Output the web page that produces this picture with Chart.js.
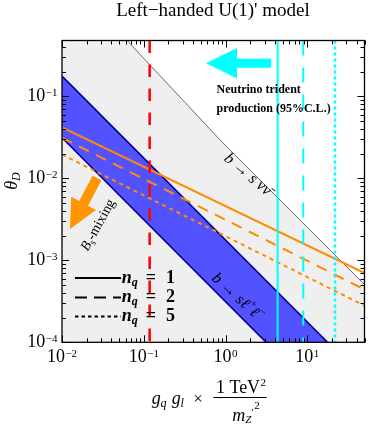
<!DOCTYPE html>
<html><head><meta charset="utf-8">
<script src="https://cdn.jsdelivr.net/npm/chart.js@4/dist/chart.umd.min.js"></script>
<style>html,body{margin:0;padding:0;background:#fff;}#wrap{width:374px;height:427px;position:relative}</style>
</head><body><div id="wrap"><canvas id="c" width="374" height="427"></canvas></div>
<script>
// ---- data ----
const xRange = [0.01, 50];
const yRange = [1e-4, 0.48];
const xTickExps = [-2, -1, 0, 1];
const yTickExps = [-4, -3, -2, -1];
// b -> s nu nubar bound (gray line)
const nuX = [0.0637, 0.851, 50];
const nuY = [0.47, 0.0296, 5.06e-4];
// b -> s l+ l- band
const llX = [0.01, 50];
const llUpperY = [0.177, 3.53e-5];
const llLowerY = [0.0313, 6.26e-6];
// Bs-mixing lines
const bsX = [0.01, 50];
const bsN1Y = [0.0417, 7.0e-4];
const bsN2Y = [0.0312, 4.41e-4];
const bsN5Y = [0.0195, 2.8e-4];
// vertical bounds
const redX = 0.118;
const tridentX = [4.33, 8.91, 21.8]; // n_q = 1, 2, 5

const SERIF = '"Liberation Serif","DejaVu Serif",serif';
const toPts = (xs, ys) => xs.map((x, i) => ({x, y: ys[i]}));
const vline = x => [{x, y: yRange[1]}, {x, y: yRange[0]}];

function runsWidth(ctx, runs){let w=0;for(const r of runs){ctx.font=r.f;w+=ctx.measureText(r.t).width+(r.dx||0);}return w;}
function drawRuns(ctx, runs, x, y, align){
  const w = runsWidth(ctx, runs);
  let cx = align==='center' ? x-w/2 : align==='right' ? x-w : x;
  ctx.textAlign='left'; ctx.textBaseline='alphabetic';
  for(const r of runs){ctx.font=r.f; cx+=(r.dx||0); ctx.fillText(r.t, cx, y+(r.dy||0)); cx+=ctx.measureText(r.t).width;}
  return w;
}
function powRuns(e){return [{t:'10',f:`18px ${SERIF}`},{t:(e<0?'\u2212':'')+Math.abs(e),f:`11px ${SERIF}`,dy:-5.5,dx:0.5}];}

const deco = {
  id:'deco',
  beforeDatasetsDraw(chart){
    const {ctx, chartArea:a} = chart;
    ctx.save(); ctx.fillStyle='#efefef'; ctx.fillRect(a.left,a.top,a.right-a.left,a.bottom-a.top); ctx.restore();
  },
  afterDatasetsDraw(chart){
    const {ctx, chartArea:a, scales:{x:xs, y:ys}} = chart;
    ctx.save();
    // cyan arrow
    ctx.fillStyle='#00ffff';
    ctx.beginPath();
    ctx.moveTo(206,63.3); ctx.lineTo(237,48); ctx.lineTo(237,58.7); ctx.lineTo(271,58.7);
    ctx.lineTo(271,67.7); ctx.lineTo(237,67.7); ctx.lineTo(237,78.5); ctx.closePath(); ctx.fill();
    // orange arrow
    (function(){
      const tail=[97,178], tip=[70,229];
      const dx=tip[0]-tail[0], dy=tip[1]-tail[1], L=Math.hypot(dx,dy);
      const ux=dx/L, uy=dy/L, px=-uy, py=ux;
      const hl=29, hw=14, sw=5;
      const bx=tip[0]-ux*hl, by=tip[1]-uy*hl;
      ctx.fillStyle='#ff9500';
      ctx.beginPath();
      ctx.moveTo(tail[0]+px*sw, tail[1]+py*sw);
      ctx.lineTo(bx+px*sw, by+py*sw);
      ctx.lineTo(bx+px*hw, by+py*hw);
      ctx.lineTo(tip[0], tip[1]);
      ctx.lineTo(bx-px*hw, by-py*hw);
      ctx.lineTo(bx-px*sw, by-py*sw);
      ctx.lineTo(tail[0]-px*sw, tail[1]-py*sw);
      ctx.closePath(); ctx.fill();
    })();
    ctx.fillStyle='#000';
    // Neutrino trident text
    ctx.font=`bold 12px ${SERIF}`; ctx.textAlign='left'; ctx.textBaseline='alphabetic';
    ctx.fillText('Neutrino trident', 216.5, 93);
    ctx.fillText('production (95%C.L.)', 216.5, 111.5);
    // b -> s nu nubar label
    ctx.save(); ctx.translate(248,174); ctx.rotate(40*Math.PI/180);
    drawRuns(ctx,[{t:'b',f:`italic 16px ${SERIF}`},{t:' \u2192 ',f:`16px ${SERIF}`},{t:'s',f:`italic 16px ${SERIF}`},{t:' \u03bd\u03bd\u0304',f:`italic 16px ${SERIF}`}],0,5,'center');
    ctx.restore();
    // b -> s l+ l- label
    ctx.save(); ctx.translate(238,297); ctx.rotate(42*Math.PI/180);
    drawRuns(ctx,[{t:'b',f:`italic 16px ${SERIF}`},{t:' \u2192 ',f:`16px ${SERIF}`},{t:'s\u2113',f:`italic 16px ${SERIF}`},{t:'+',f:`11px ${SERIF}`,dy:-7},{t:'\u2113',f:`italic 16px ${SERIF}`},{t:'\u2212',f:`11px ${SERIF}`,dy:-7}],0,5,'center');
    ctx.restore();
    // Bs-mixing label
    ctx.save(); ctx.translate(98,225); ctx.rotate(-61*Math.PI/180);
    drawRuns(ctx,[{t:'B',f:`italic 14px ${SERIF}`},{t:'s',f:`italic 10px ${SERIF}`,dy:3},{t:'-mixing',f:`14px ${SERIF}`}],0,4,'center');
    ctx.restore();
    // legend
    const legY=[278,297.5,316.5], legB=[283,302,321], legDash=[[],[12,7],[3.5,3]], legN=['1','2','5'];
    for(let i=0;i<3;i++){
      ctx.save(); ctx.strokeStyle='#000'; ctx.lineWidth=2; ctx.setLineDash(legDash[i]);
      ctx.beginPath(); ctx.moveTo(75,legY[i]); ctx.lineTo(121,legY[i]); ctx.stroke(); ctx.restore();
      drawRuns(ctx,[{t:'n',f:`italic bold 18px ${SERIF}`},{t:'q',f:`italic bold 12px ${SERIF}`,dy:3},{t:'=',f:`bold 18px ${SERIF}`,dx:8},{t:legN[i],f:`bold 18px ${SERIF}`,dx:10}],121.7,legB[i],'left');
    }
    // frame
    ctx.strokeStyle='#000'; ctx.lineWidth=1.3; ctx.setLineDash([]);
    ctx.strokeRect(a.left,a.top,a.right-a.left,a.bottom-a.top);
    // ticks
    ctx.lineWidth=1;
    ctx.beginPath();
    for(let d=-2; d<=1; d++) for(let m=1;m<=9;m++){
      const v=m*Math.pow(10,d); if(v<xRange[0]||v>xRange[1]+1e-9) continue;
      const p=Math.round(xs.getPixelForValue(v))+0.5, len=m===1?7:4;
      ctx.moveTo(p,a.bottom); ctx.lineTo(p,a.bottom-len); ctx.moveTo(p,a.top); ctx.lineTo(p,a.top+len);
    }
    for(let d=-4; d<=-1; d++) for(let m=1;m<=9;m++){
      const v=m*Math.pow(10,d); if(v<yRange[0]||v>yRange[1]) continue;
      const p=Math.round(ys.getPixelForValue(v))+0.5, len=m===1?7:4;
      ctx.moveTo(a.left,p); ctx.lineTo(a.left+len,p); ctx.moveTo(a.right,p); ctx.lineTo(a.right-len,p);
    }
    ctx.stroke();
    // tick labels
    for(const e of xTickExps) drawRuns(ctx,powRuns(e),xs.getPixelForValue(Math.pow(10,e)),362,'center');
    for(const e of yTickExps) drawRuns(ctx,powRuns(e),57.5,ys.getPixelForValue(Math.pow(10,e))+5,'right');
    // title
    ctx.font=`19px ${SERIF}`; ctx.textAlign='center';
    ctx.fillText('Left\u2212handed U(1)\' model',213,15.5);
    // y title
    ctx.save(); ctx.translate(12,181); ctx.rotate(-Math.PI/2);
    drawRuns(ctx,[{t:'\u03b8',f:`italic 18px ${SERIF}`},{t:'D',f:`italic 12px ${SERIF}`,dy:3}],0,5,'center');
    ctx.restore();
    // x title
    const it18=`italic 18px ${SERIF}`, it12=`italic 12px ${SERIF}`;
    ctx.textAlign='left';
    ctx.font=it18; ctx.fillText('g',151.7,403.5);
    ctx.font=it12; ctx.fillText('q',160.5,406.5);
    ctx.font=it18; ctx.fillText('g',171.7,403.5);
    ctx.font=it12; ctx.fillText('l',180.5,406.5);
    ctx.font=`17px ${SERIF}`; ctx.fillText('\u00d7',193.3,403.5);
    drawRuns(ctx,[{t:'1 TeV',f:`18px ${SERIF}`},{t:'2',f:`11px ${SERIF}`,dy:-7,dx:0.5}],241,393.3,'center');
    ctx.lineWidth=1; ctx.beginPath(); ctx.moveTo(213.3,397.5); ctx.lineTo(266.7,397.5); ctx.stroke();
    drawRuns(ctx,[{t:'m',f:it18},{t:'Z',f:`italic 11px ${SERIF}`,dy:2},{t:'\u2032',f:`11px ${SERIF}`,dy:-5},{t:'2',f:`11px ${SERIF}`,dy:-12,dx:0.5}],246,420.5,'center');
    ctx.restore();
  }
};

const common = {showLine:true, pointRadius:0, pointHoverRadius:0, clip:0, tension:0};
new Chart(document.getElementById('c'), {
  type:'scatter',
  data:{datasets:[
    {...common, label:'b->s nu nu', data:toPts(nuX,nuY), borderColor:'#6a6a6a', borderWidth:1, fill:'end', backgroundColor:'#ffffff', order:10},
    {...common, label:'b->sll upper', data:toPts(llX,llUpperY), borderColor:'#00008c', borderWidth:1.6, fill:'+1', backgroundColor:'#5252ff', order:9},
    {...common, label:'b->sll lower', data:toPts(llX,llLowerY), borderColor:'#00008c', borderWidth:1.6, fill:false, order:8},
    {...common, label:'Bs n1', data:toPts(bsX,bsN1Y), borderColor:'#ff8c00', borderWidth:2, fill:false, order:5},
    {...common, label:'Bs n2', data:toPts(bsX,bsN2Y), borderColor:'#ff8c00', borderWidth:2, borderDash:[11,8], fill:false, order:5},
    {...common, label:'Bs n5', data:toPts(bsX,bsN5Y), borderColor:'#ff8c00', borderWidth:2, borderDash:[4,4], fill:false, order:5},
    {...common, label:'red', data:vline(redX), borderColor:'#ff0000', borderWidth:2.5, borderDash:[12.5,11.5], fill:false, order:3},
    {...common, label:'trident n1', data:vline(tridentX[0]), borderColor:'#00ffff', borderWidth:2, fill:false, order:2},
    {...common, label:'trident n2', data:vline(tridentX[1]), borderColor:'#00ffff', borderWidth:2, borderDash:[15,12], fill:false, order:2},
    {...common, label:'trident n5', data:vline(tridentX[2]), borderColor:'#00ffff', borderWidth:2.5, borderDash:[3,3], fill:false, order:2}
  ]},
  plugins:[deco],
  options:{
    responsive:false, animation:false, devicePixelRatio:1,
    layout:{padding:{left:62,right:9.5,top:40.5,bottom:84.7}},
    plugins:{legend:{display:false}, tooltip:{enabled:false}, title:{display:false}},
    scales:{
      x:{type:'logarithmic', min:xRange[0], max:xRange[1], display:false},
      y:{type:'logarithmic', min:yRange[0], max:yRange[1], display:false}
    }
  }
});
</script></body></html>
